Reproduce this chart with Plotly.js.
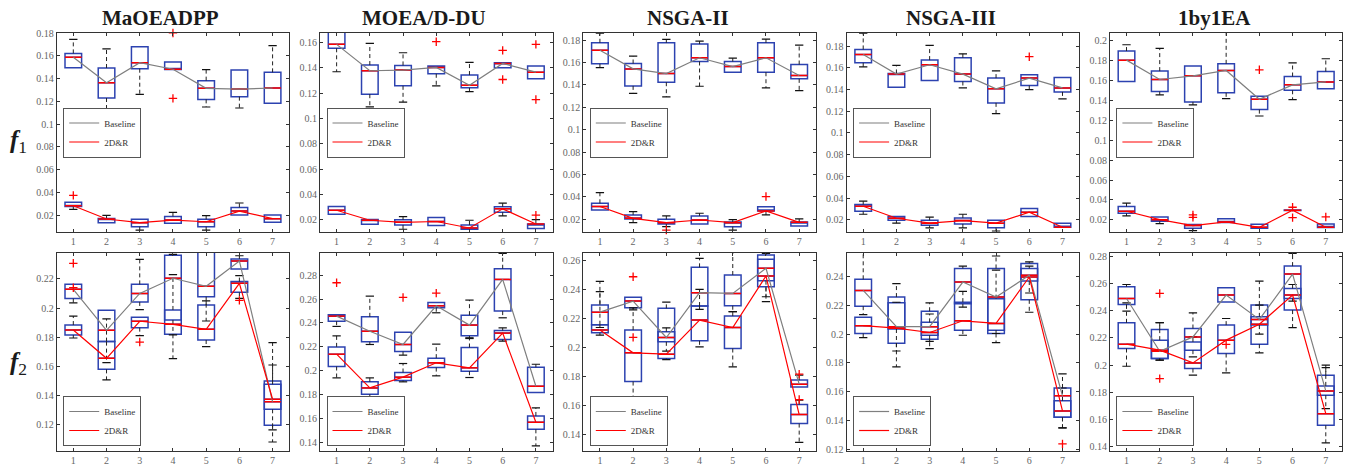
<!DOCTYPE html>
<html><head><meta charset="utf-8">
<script src="https://cdn.plot.ly/plotly-3.0.1.min.js"></script>
<style>html,body{margin:0;padding:0;background:#fff}#chart{width:1351px;height:468px}</style>
</head><body><div id="chart"></div>
<script>
const categories = [1, 2, 3, 4, 5, 6, 7];
const categoryLabels = ['1', '2', '3', '4', '5', '6', '7'];
const algorithms = ['MaOEADPP', 'MOEA/D-DU', 'NSGA-II', 'NSGA-III', '1by1EA'];
const objectiveLabels = ['<b><i>f</i></b><sub>1</sub>', '<b><i>f</i></b><sub>2</sub>'];
const seriesNames = ['Baseline', '2D&R'];

// each row: [lower whisker, q1, median, q3, upper whisker]
const MaOEADPP_f1_Baseline = [[0.1497,0.1497,0.1588,0.1623,0.1747],[0.1130,0.1230,0.1365,0.1494,0.1662],[0.1262,0.1488,0.1541,0.1682,0.1682],[0.1480,0.1480,0.1483,0.1547,0.1547],[0.1151,0.1218,0.1315,0.1383,0.1480],[0.1142,0.1242,0.1309,0.1477,0.1477],[0.1183,0.1183,0.1318,0.1456,0.1691]];
const MaOEADPP_f1_2DR = [[0.0250,0.0275,0.0282,0.0312,0.0312],[0.0133,0.0133,0.0165,0.0170,0.0197],[0.0068,0.0097,0.0133,0.0162,0.0162],[0.0127,0.0127,0.0156,0.0188,0.0224],[0.0068,0.0097,0.0141,0.0162,0.0194],[0.0200,0.0200,0.0235,0.0267,0.0306],[0.0136,0.0136,0.0168,0.0200,0.0200]];
const MaOEADPP_f2_Baseline = [[0.2035,0.2065,0.2129,0.2163,0.2163],[0.1624,0.1769,0.1847,0.1984,0.1984],[0.1989,0.2042,0.2101,0.2163,0.2335],[0.1815,0.1918,0.2205,0.2363,0.2370],[0.1911,0.2078,0.2150,0.2450,0.2550],[0.2269,0.2269,0.2324,0.2338,0.2360],[0.1078,0.1193,0.1355,0.1498,0.1762]];
const MaOEADPP_f2_2DR = [[0.1794,0.1815,0.1849,0.1883,0.1945],[0.1505,0.1578,0.1654,0.1769,0.1925],[0.1810,0.1865,0.1909,0.1936,0.1936],[0.1652,0.1819,0.1888,0.1987,0.2230],[0.1734,0.1780,0.1854,0.2021,0.2049],[0.2067,0.2108,0.2170,0.2182,0.2223],[0.1161,0.1303,0.1372,0.1475,0.1608]];

const MOEADDU_f1_Baseline = [[0.1368,0.1553,0.1584,0.1680,0.1720],[0.1091,0.1191,0.1376,0.1421,0.1592],[0.1128,0.1257,0.1381,0.1418,0.1518],[0.1257,0.1352,0.1402,0.1413,0.1413],[0.1212,0.1241,0.1262,0.1342,0.1442],[0.1400,0.1400,0.1434,0.1439,0.1439],[0.1313,0.1313,0.1365,0.1413,0.1413]];
const MOEADDU_f1_2DR = [[0.0245,0.0245,0.0276,0.0305,0.0305],[0.0165,0.0165,0.0197,0.0202,0.0202],[0.0126,0.0160,0.0181,0.0200,0.0226],[0.0155,0.0155,0.0187,0.0218,0.0218],[0.0126,0.0126,0.0136,0.0160,0.0197],[0.0231,0.0260,0.0287,0.0303,0.0332],[0.0131,0.0131,0.0168,0.0168,0.0202]];
const MOEADDU_f2_Baseline = [[0.2371,0.2415,0.2457,0.2468,0.2468],[0.2220,0.2242,0.2331,0.2451,0.2624],[0.2131,0.2161,0.2220,0.2323,0.2323],[0.2485,0.2527,0.2543,0.2571,0.2571],[0.2270,0.2292,0.2382,0.2465,0.2591],[0.2443,0.2499,0.2764,0.2853,0.2981],[0.1818,0.1818,0.1871,0.2030,0.2055]];
const MOEADDU_f2_2DR = [[0.1941,0.2036,0.2139,0.2200,0.2292],[0.1771,0.1804,0.1857,0.1908,0.1941],[0.1908,0.1919,0.1947,0.1986,0.2061],[0.1958,0.2027,0.2067,0.2106,0.2223],[0.1944,0.1997,0.2025,0.2195,0.2276],[0.2248,0.2262,0.2315,0.2337,0.2359],[0.1372,0.1511,0.1570,0.1623,0.1690]];

const NSGAII_f1_Baseline = [[0.1555,0.1588,0.1710,0.1776,0.1862],[0.1325,0.1391,0.1543,0.1591,0.1657],[0.1293,0.1424,0.1501,0.1776,0.1806],[0.1388,0.1609,0.1642,0.1764,0.1791],[0.1513,0.1513,0.1564,0.1609,0.1639],[0.1373,0.1513,0.1642,0.1776,0.1809],[0.1349,0.1454,0.1484,0.1582,0.1755]];
const NSGAII_f1_2DR = [[0.0284,0.0284,0.0314,0.0343,0.0439],[0.0170,0.0203,0.0209,0.0239,0.0269],[0.0134,0.0158,0.0170,0.0200,0.0230],[0.0158,0.0158,0.0194,0.0230,0.0254],[0.0104,0.0134,0.0170,0.0176,0.0197],[0.0239,0.0275,0.0275,0.0311,0.0311],[0.0140,0.0140,0.0173,0.0176,0.0203]];
const NSGAII_f2_Baseline = [[0.2139,0.2158,0.2245,0.2295,0.2457],[0.2261,0.2275,0.2321,0.2347,0.2347],[0.1976,0.2040,0.2070,0.2271,0.2314],[0.2264,0.2287,0.2379,0.2554,0.2616],[0.2248,0.2289,0.2374,0.2501,0.2700],[0.2317,0.2462,0.2547,0.2639,0.2651],[0.1729,0.1729,0.1748,0.1776,0.1810]];
const NSGAII_f2_2DR = [[0.2086,0.2103,0.2121,0.2158,0.2386],[0.1366,0.1766,0.1964,0.2121,0.2275],[0.1918,0.1925,0.1955,0.2110,0.2137],[0.2006,0.2047,0.2190,0.2287,0.2402],[0.1868,0.1994,0.2139,0.2218,0.2248],[0.2351,0.2420,0.2494,0.2609,0.2609],[0.1347,0.1476,0.1538,0.1607,0.1637]];

const NSGAIII_f1_Baseline = [[0.1609,0.1646,0.1723,0.1769,0.1920],[0.1422,0.1422,0.1542,0.1548,0.1622],[0.1483,0.1483,0.1628,0.1671,0.1806],[0.1415,0.1474,0.1542,0.1692,0.1729],[0.1178,0.1277,0.1406,0.1505,0.1572],[0.1400,0.1437,0.1505,0.1535,0.1535],[0.1314,0.1378,0.1415,0.1511,0.1511]];
const NSGAIII_f1_2DR = [[0.0252,0.0280,0.0326,0.0342,0.0372],[0.0170,0.0197,0.0215,0.0231,0.0231],[0.0126,0.0151,0.0170,0.0197,0.0225],[0.0126,0.0163,0.0194,0.0218,0.0252],[0.0098,0.0129,0.0170,0.0197,0.0197],[0.0231,0.0231,0.0271,0.0305,0.0305],[0.0132,0.0132,0.0132,0.0170,0.0170]];
const NSGAIII_f2_Baseline = [[0.2134,0.2193,0.2302,0.2379,0.2600],[0.1773,0.1936,0.2051,0.2256,0.2349],[0.1899,0.1992,0.2051,0.2158,0.2216],[0.2186,0.2209,0.2360,0.2454,0.2470],[0.2004,0.2027,0.2256,0.2454,0.2540],[0.2151,0.2237,0.2407,0.2489,0.2500],[0.1351,0.1424,0.1573,0.1627,0.1724]];
const NSGAIII_f2_2DR = [[0.1976,0.2004,0.2058,0.2116,0.2116],[0.1883,0.2035,0.2041,0.2216,0.2220],[0.1950,0.1964,0.2011,0.2081,0.2139],[0.1992,0.2027,0.2092,0.2221,0.2295],[0.1941,0.2004,0.2074,0.2245,0.2442],[0.2284,0.2367,0.2395,0.2454,0.2470],[0.1351,0.1424,0.1468,0.1538,0.1627]];

const OneByOneEA_f1_Baseline = [[0.1588,0.1588,0.1802,0.1893,0.1956],[0.1454,0.1487,0.1608,0.1692,0.1920],[0.1353,0.1383,0.1645,0.1742,0.1742],[0.1417,0.1474,0.1698,0.1765,0.2100],[0.1242,0.1306,0.1410,0.1440,0.1440],[0.1407,0.1500,0.1554,0.1638,0.1775],[0.1514,0.1514,0.1584,0.1688,0.1816]];
const OneByOneEA_f1_2DR = [[0.0240,0.0267,0.0287,0.0334,0.0368],[0.0163,0.0187,0.0203,0.0230,0.0230],[0.0093,0.0116,0.0143,0.0153,0.0153],[0.0173,0.0173,0.0180,0.0213,0.0213],[0.0116,0.0116,0.0126,0.0156,0.0156],[0.0294,0.0294,0.0297,0.0300,0.0300],[0.0123,0.0123,0.0126,0.0160,0.0160]];
const OneByOneEA_f2_Baseline = [[0.2398,0.2448,0.2492,0.2578,0.2595],[0.2036,0.2048,0.2102,0.2263,0.2314],[0.2061,0.2110,0.2208,0.2270,0.2386],[0.2465,0.2465,0.2517,0.2571,0.2571],[0.2228,0.2295,0.2337,0.2443,0.2620],[0.2472,0.2492,0.2672,0.2731,0.2825],[0.1678,0.1777,0.1809,0.1925,0.2000]];
const OneByOneEA_f2_2DR = [[0.1991,0.2122,0.2154,0.2312,0.2460],[0.2036,0.2048,0.2110,0.2184,0.2314],[0.1925,0.1974,0.2016,0.2171,0.2208],[0.1942,0.2085,0.2184,0.2295,0.2344],[0.2090,0.2154,0.2302,0.2356,0.2443],[0.2277,0.2406,0.2517,0.2566,0.2595],[0.1425,0.1555,0.1641,0.1846,0.1981]];

// outliers: [category, value]
const MaOEADPP_f1_outliers = [[4,0.1803],[4,0.1227],[1,0.0373]];
const MaOEADPP_f2_outliers = [[1,0.2308],[1,0.2140],[3,0.1766],[6,0.2053]];
const MOEADDU_f1_outliers = [[4,0.1605],[6,0.1537],[6,0.1307],[7,0.1584],[7,0.1149],[7,0.0237]];
const MOEADDU_f2_outliers = [[1,0.2736],[3,0.2613],[4,0.2649]];
const NSGAII_f1_outliers = [[3,0.0104],[6,0.0403]];
const NSGAII_f2_outliers = [[2,0.2071],[2,0.2489],[7,0.1817],[7,0.1642]];
const NSGAIII_f1_outliers = [[2,0.1129],[6,0.1702]];
const NSGAIII_f2_outliers = [[7,0.1240]];
const OneByOneEA_f1_outliers = [[5,0.1705],[3,0.0250],[3,0.0226],[6,0.0327],[6,0.0223],[7,0.0230]];
const OneByOneEA_f2_outliers = [[4,0.2152],[2,0.2529],[2,0.1900]];

// axis ranges per panel (row-major: f1 row then f2 row)
const yRanges = [
  [0.0048,0.1805],[0.0102,0.1676],[0.0084,0.1866],[0.0086,0.1923],[0.0076,0.2077],
  [0.1016,0.2381],[0.1330,0.2987],[0.1287,0.2655],[0.1191,0.2563],[0.1365,0.2830]
];

const panelData = [
  [MaOEADPP_f1_Baseline, MaOEADPP_f1_2DR, MaOEADPP_f1_outliers],
  [MOEADDU_f1_Baseline, MOEADDU_f1_2DR, MOEADDU_f1_outliers],
  [NSGAII_f1_Baseline, NSGAII_f1_2DR, NSGAII_f1_outliers],
  [NSGAIII_f1_Baseline, NSGAIII_f1_2DR, NSGAIII_f1_outliers],
  [OneByOneEA_f1_Baseline, OneByOneEA_f1_2DR, OneByOneEA_f1_outliers],
  [MaOEADPP_f2_Baseline, MaOEADPP_f2_2DR, MaOEADPP_f2_outliers],
  [MOEADDU_f2_Baseline, MOEADDU_f2_2DR, MOEADDU_f2_outliers],
  [NSGAII_f2_Baseline, NSGAII_f2_2DR, NSGAII_f2_outliers],
  [NSGAIII_f2_Baseline, NSGAIII_f2_2DR, NSGAIII_f2_outliers],
  [OneByOneEA_f2_Baseline, OneByOneEA_f2_2DR, OneByOneEA_f2_outliers]
];

// ---------- drawing ----------
const W = 1351, H = 468;
const X0 = 56.7, XSTEP = 263.3, PW = 232.5;
const ROWS = [[32.7, 232.3], [252.7, 451]];
const BOX_W = 0.5, CAP_HALF = 0.125;
const BLUE = 'rgb(44,66,176)', RED = '#ff0000', GRAY = '#7f7f7f';
const SERIF = '"Liberation Serif", "Times New Roman", Times, serif';

const traces = [];
const layout = {
  width: W, height: H, margin: {l: 0, r: 0, t: 0, b: 0},
  paper_bgcolor: '#fff', plot_bgcolor: '#fff', showlegend: true,
  font: {family: SERIF},
  annotations: [], hovermode: false
};

panelData.forEach((pd, p) => {
  const col = p % 5, row = Math.floor(p / 5), k = p + 1;
  const xa = 'x' + (k === 1 ? '' : k), ya = 'y' + (k === 1 ? '' : k);
  const legendKey = 'legend' + (k === 1 ? '' : k);
  const left = X0 + col * XSTEP;
  const axStyle = {
    showline: true, linecolor: '#333', linewidth: 1, mirror: 'ticks',
    ticks: 'inside', ticklen: 3, tickcolor: '#333', showgrid: false, zeroline: false,
    tickfont: {family: SERIF, size: 10, color: '#666'}, fixedrange: true
  };
  layout['xaxis' + (k === 1 ? '' : k)] = Object.assign({}, axStyle, {
    domain: [left / W, (left + PW) / W], anchor: ya, range: [0.5, 7.5],
    tickmode: 'array', tickvals: categories, ticktext: categoryLabels
  });
  layout['yaxis' + (k === 1 ? '' : k)] = Object.assign({}, axStyle, {
    domain: [1 - ROWS[row][1] / H, 1 - ROWS[row][0] / H], anchor: xa,
    range: yRanges[p], tick0: 0, dtick: 0.02
  });
  layout[legendKey] = {
    x: (left + 6.5) / W, xanchor: 'left',
    y: row === 0 ? 1 - 132.5 / H : 1 - 446 / H,
    yanchor: row === 0 ? 'middle' : 'bottom',
    bgcolor: '#fff', bordercolor: '#555', borderwidth: 1,
    font: {family: SERIF, size: 9, color: '#333'}, itemwidth: 30, tracegroupgap: 0
  };

  const series = [pd[0], pd[1]];
  // boxes
  series.forEach((s) => {
    traces.push({
      type: 'box', xaxis: xa, yaxis: ya, x: categories,
      q1: s.map(r => r[1]), median: s.map(r => r[2]), q3: s.map(r => r[3]),
      lowerfence: s.map(r => r[1]), upperfence: s.map(r => r[3]),
      width: BOX_W, whiskerwidth: 0, boxpoints: false,
      line: {color: BLUE, width: 1.5}, fillcolor: 'rgba(0,0,0,0)',
      showlegend: false, hoverinfo: 'skip'
    });
  });
  // whiskers (dashed), caps and medians
  const wx = [], wy = [], cx = [], cy = [], mx = [], my = [];
  series.forEach((s) => {
    s.forEach((r, i) => {
      const c = categories[i];
      if (r[4] > r[3]) {
        wx.push(c, c, null); wy.push(r[3], r[4], null);
        cx.push(c - CAP_HALF, c + CAP_HALF, null); cy.push(r[4], r[4], null);
      }
      if (r[0] < r[1]) {
        wx.push(c, c, null); wy.push(r[1], r[0], null);
        cx.push(c - CAP_HALF, c + CAP_HALF, null); cy.push(r[0], r[0], null);
      }
      mx.push(c - BOX_W / 2, c + BOX_W / 2, null); my.push(r[2], r[2], null);
    });
  });
  traces.push({type: 'scatter', mode: 'lines', xaxis: xa, yaxis: ya, x: wx, y: wy,
    line: {color: '#222', width: 1, dash: '4px,3px'}, showlegend: false, hoverinfo: 'skip'});
  traces.push({type: 'scatter', mode: 'lines', xaxis: xa, yaxis: ya, x: cx, y: cy,
    line: {color: '#111', width: 1.2}, showlegend: false, hoverinfo: 'skip'});
  traces.push({type: 'scatter', mode: 'lines', xaxis: xa, yaxis: ya, x: mx, y: my,
    line: {color: RED, width: 1.5}, showlegend: false, hoverinfo: 'skip'});
  // median connecting lines (legend entries)
  traces.push({type: 'scatter', mode: 'lines', xaxis: xa, yaxis: ya, x: categories,
    y: pd[0].map(r => r[2]), name: seriesNames[0], legend: legendKey,
    line: {color: GRAY, width: 1.2}, hoverinfo: 'skip'});
  traces.push({type: 'scatter', mode: 'lines', xaxis: xa, yaxis: ya, x: categories,
    y: pd[1].map(r => r[2]), name: seriesNames[1], legend: legendKey,
    line: {color: RED, width: 1.2}, hoverinfo: 'skip'});
  // outliers
  traces.push({type: 'scatter', mode: 'markers', xaxis: xa, yaxis: ya,
    x: pd[2].map(o => o[0]), y: pd[2].map(o => o[1]), cliponaxis: false,
    marker: {symbol: 'cross-thin', size: 6, color: RED, line: {color: RED, width: 1.3}},
    showlegend: false, hoverinfo: 'skip'});

  if (row === 0) {
    layout.annotations.push({
      xref: 'paper', yref: 'paper', x: (left + PW / 2 - 12) / W, y: 1 - 18 / H,
      xanchor: 'center', yanchor: 'middle', showarrow: false,
      text: '<b>' + algorithms[col] + '</b>',
      font: {family: SERIF, size: 21, color: '#1a1a1a'}
    });
  }
});

objectiveLabels.forEach((t, r) => {
  layout.annotations.push({
    xref: 'paper', yref: 'paper', x: 18 / W, y: 1 - (r === 0 ? 141 : 363) / H,
    xanchor: 'center', yanchor: 'middle', showarrow: false, text: t,
    font: {family: SERIF, size: 25, color: '#1a1a1a'}
  });
});

Plotly.newPlot('chart', traces, layout, {staticPlot: true, displayModeBar: false});
</script>
</body></html>
